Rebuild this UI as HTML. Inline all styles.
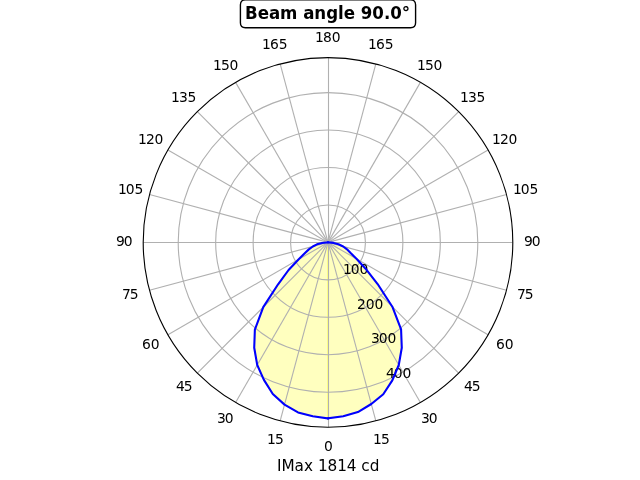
<!DOCTYPE html>
<html lang="en"><head><meta charset="utf-8"><title>Beam angle 90.0°</title>
<style>html,body{margin:0;padding:0;background:#fff;}body{width:640px;height:480px;overflow:hidden;}svg{display:block;will-change:transform;-webkit-font-smoothing:antialiased;}text{font-family:'DejaVu Sans','Liberation Sans',sans-serif;fill:#000;white-space:pre;}</style></head><body>
<svg xmlns="http://www.w3.org/2000/svg" width="640" height="480" viewBox="0 0 640 480">
<defs><clipPath id="ax"><circle cx="328" cy="242.4" r="184.8"/></clipPath></defs>
<rect width="640" height="480" fill="#fff"/>
<g clip-path="url(#ax)">
<path d="M328 418.4 L343.21 416.24 L357.91 412.04 L371.3 404.01 L383.26 394.24 L392.33 380.36 L398.77 364.98 L401.78 347.77 L401.08 329.49 L392.34 306.74 L377.63 284.04 L365.58 268.71 L356.7 258.97 L350.4 252.84 L347 249.32 L343.19 246.47 L338.51 244.25 L333.6 242.89 L328 242.4 Z" fill="#ffff00" fill-opacity="0.25" stroke="#ffff00" stroke-opacity="0.25" stroke-width="1.39" stroke-linejoin="miter"/>
<path d="M328 418.4 L312.79 416.24 L298.02 412.41 L284.53 404.63 L272.8 394.06 L263.91 379.85 L257.23 364.98 L254.22 347.77 L254.87 329.55 L263.26 307.14 L278.09 284.28 L288.58 270 L298.49 259.44 L304.75 253.24 L308.82 249.38 L312.81 246.47 L316.94 244.35 L322.03 242.92 L328 242.4 Z" fill="#ffff00" fill-opacity="0.25" stroke="#ffff00" stroke-opacity="0.25" stroke-width="1.39" stroke-linejoin="miter"/>
<g fill="none" stroke="#b0b0b0" stroke-width="1.11">
<path d="M328.5 242.4 L328.5 427.2"/>
<path d="M328 242.4 L375.83 420.9"/>
<path d="M328 242.4 L420.4 402.44"/>
<path d="M328 242.4 L458.67 373.07"/>
<path d="M328 242.4 L488.04 334.8"/>
<path d="M328 242.4 L506.5 290.23"/>
<path d="M328 242.5 L512.8 242.5"/>
<path d="M328 242.4 L506.5 194.57"/>
<path d="M328 242.4 L488.04 150"/>
<path d="M328 242.4 L458.67 111.73"/>
<path d="M328 242.4 L420.4 82.36"/>
<path d="M328 242.4 L375.83 63.9"/>
<path d="M328.5 242.4 L328.5 57.6"/>
<path d="M328 242.4 L280.17 63.9"/>
<path d="M328 242.4 L235.6 82.36"/>
<path d="M328 242.4 L197.33 111.73"/>
<path d="M328 242.4 L167.96 150"/>
<path d="M328 242.4 L149.5 194.57"/>
<path d="M328 242.5 L143.2 242.5"/>
<path d="M328 242.4 L149.5 290.23"/>
<path d="M328 242.4 L167.96 334.8"/>
<path d="M328 242.4 L197.33 373.07"/>
<path d="M328 242.4 L235.6 402.44"/>
<path d="M328 242.4 L280.17 420.9"/>
<circle cx="328" cy="242.4" r="37.45"/>
<circle cx="328" cy="242.4" r="74.89"/>
<circle cx="328" cy="242.4" r="112.34"/>
<circle cx="328" cy="242.4" r="149.79"/>
</g></g>
<text id="r100" x="342.96 350.647 359.476" y="274.1" font-size="13.889">100</text>
<text id="r200" x="356.91 365.723 374.426" y="309.1" font-size="13.889">200</text>
<text id="r300" x="370.995 378.682 387.386" y="343.1" font-size="13.889">300</text>
<text id="r400" x="385.95 393.638 402.466" y="378.1" font-size="13.889">400</text>
<g clip-path="url(#ax)" fill="none" stroke="#0000ff" stroke-width="2.083" stroke-linejoin="round" stroke-linecap="square">
<path d="M328 418.4 L343.21 416.24 L357.91 412.04 L371.3 404.01 L383.26 394.24 L392.33 380.36 L398.77 364.98 L401.78 347.77 L401.08 329.49 L392.34 306.74 L377.63 284.04 L365.58 268.71 L356.7 258.97 L350.4 252.84 L347 249.32 L343.19 246.47 L338.51 244.25 L333.6 242.89 L328 242.4"/>
<path d="M328 418.4 L312.79 416.24 L298.02 412.41 L284.53 404.63 L272.8 394.06 L263.91 379.85 L257.23 364.98 L254.22 347.77 L254.87 329.55 L263.26 307.14 L278.09 284.28 L288.58 270 L298.49 259.44 L304.75 253.24 L308.82 249.38 L312.81 246.47 L316.94 244.35 L322.03 242.92 L328 242.4"/>
</g>
<circle cx="328" cy="242.4" r="184.8" fill="none" stroke="#000" stroke-width="1.11"/>
<text id="t0" x="323.966" y="451.1" font-size="13.889">0</text>
<text id="t15" x="372.912 380.974" y="444.1" font-size="13.889">15</text>
<text id="t30" x="420.922 428.734" y="423.1" font-size="13.889">30</text>
<text id="t45" x="463.972 471.659" y="391.1" font-size="13.889">45</text>
<text id="t60" x="495.932 504.744" y="349.1" font-size="13.889">60</text>
<text id="t75" x="516.962 524.649" y="299.1" font-size="13.889">75</text>
<text id="t90" x="523.922 531.734" y="246.1" font-size="13.889">90</text>
<text id="t105" x="512.928 520.74 529.443" y="194.1" font-size="13.889">105</text>
<text id="t120" x="491.898 499.96 508.413" y="144.1" font-size="13.889">120</text>
<text id="t135" x="459.938 467.875 476.453" y="102.1" font-size="13.889">135</text>
<text id="t150" x="416.888 424.95 433.403" y="70.1" font-size="13.889">150</text>
<text id="t165" x="367.998 375.935 384.638" y="49.1" font-size="13.889">165</text>
<text id="t180" x="314.888 322.95 331.653" y="42.1" font-size="13.889">180</text>
<text id="t195" x="261.898 269.96 278.663" y="49.1" font-size="13.889">165</text>
<text id="t210" x="212.878 220.94 229.393" y="70.1" font-size="13.889">150</text>
<text id="t225" x="170.958 178.895 187.473" y="102.1" font-size="13.889">135</text>
<text id="t240" x="137.993 145.93 154.383" y="144.1" font-size="13.889">120</text>
<text id="t255" x="117.968 125.655 134.483" y="194.1" font-size="13.889">105</text>
<text id="t270" x="115.922 123.734" y="246.1" font-size="13.889">90</text>
<text id="t285" x="121.882 129.694" y="299.1" font-size="13.889">75</text>
<text id="t300" x="141.912 150.724" y="349.1" font-size="13.889">60</text>
<text id="t315" x="175.992 183.679" y="391.1" font-size="13.889">45</text>
<text id="t330" x="216.922 224.734" y="423.1" font-size="13.889">30</text>
<text id="t345" x="266.932 274.994" y="444.1" font-size="13.889">15</text>
<text id="xl" x="276.898 281.398 294.445 303.914 312.945 317.93 327.398 337.227 346.695 356.648 361.133 369.648" y="471.1" font-size="15.278">IMax 1814 cd</text>
<path d="M245.41 27.72 L410.59 27.72 Q415.59 27.72 415.59 22.72 L415.59 4.85 Q415.59 -0.15 410.59 -0.15 L245.41 -0.15 Q240.41 -0.15 240.41 4.85 L240.41 22.72 Q240.41 27.72 245.41 27.72 Z" fill="#fff" stroke="#000" stroke-width="1.39" stroke-linejoin="miter"/>
<text id="ti" x="244.943 257.752 268.918 279.915 297.757 303.177 314.174 326.16 337.94 343.661 355.578 360.748 372.214 383.915 390.25 401.716" y="0" font-size="16.667" font-weight="bold" transform="translate(0 19) scale(1 1.085)">Beam angle 90.0°</text>
</svg></body></html>
